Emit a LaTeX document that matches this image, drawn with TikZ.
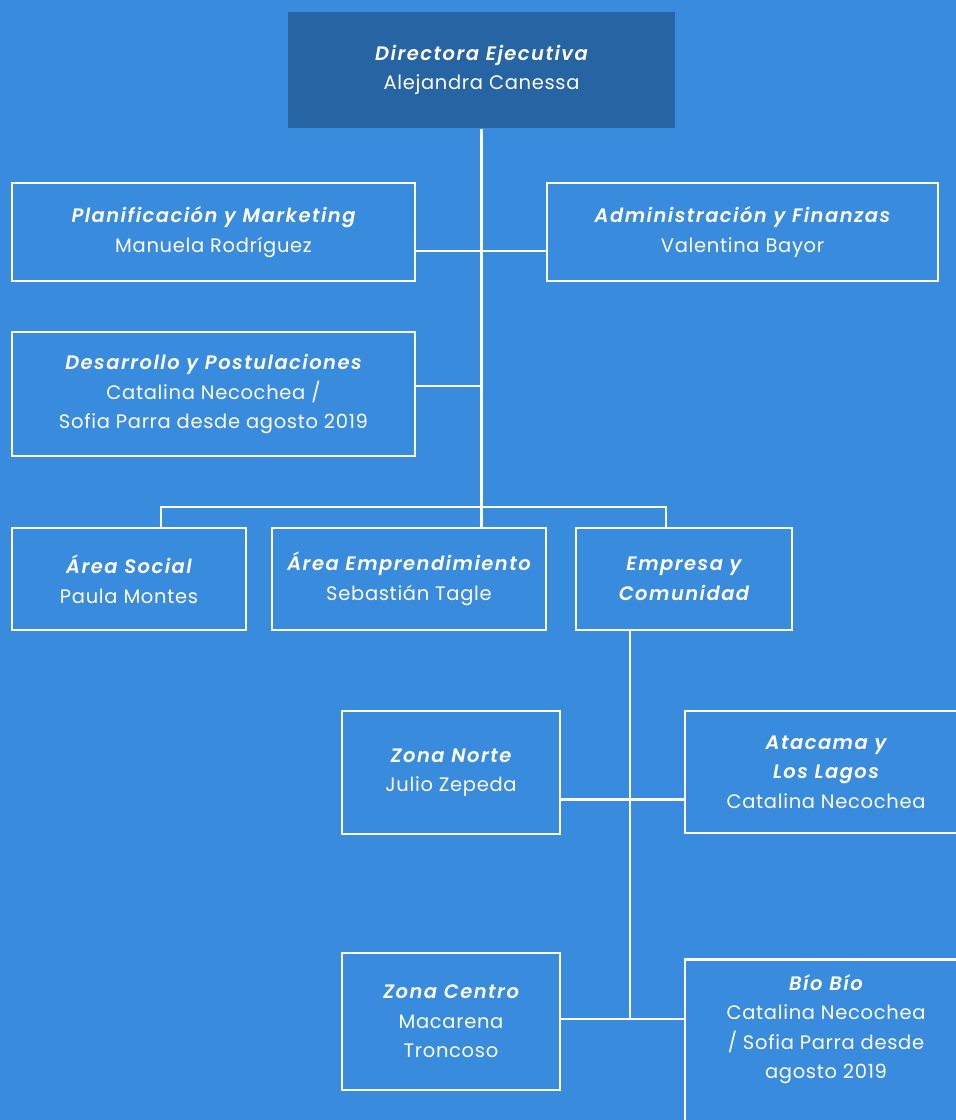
\documentclass[tikz,border=0pt]{standalone}
\usepackage{fontspec}
\setmainfont{Poppins}[UprightFeatures={LetterSpace=3.5}, BoldItalicFont={Poppins SemiBold Italic}, BoldItalicFeatures={LetterSpace=7.5}]
\definecolor{bgblue}{RGB}{57,140,221}
\definecolor{topblue}{RGB}{39,100,163}
\newcommand{\areatitle}[1]{{\bfseries\itshape #1}}

\begin{document}
\begin{tikzpicture}[x=1pt, y=-1pt,
    unit/.style={draw=white, line width=2.5pt, rectangle, align=center,
      inner sep=0pt, text=white, font=\fontsize{19.5}{29.5}\selectfont},
    link/.style={draw=white, line width=2.5pt}]
    \fill[bgblue] (0,0) rectangle (956,1120);
    \useasboundingbox (0,0) rectangle (956,1120);
    \clip (0,0) rectangle (956,1120);

    \node[unit, draw=none, fill=topblue, minimum width=387pt, minimum height=116pt] (dir) at (481.5,70)
      {\areatitle{Directora Ejecutiva}\\Alejandra Canessa};
    \node[unit, minimum width=403pt, minimum height=98pt] (plan) at (213.5,232)
      {\areatitle{Planificación y Marketing}\\Manuela Rodríguez};
    \node[unit, minimum width=391pt, minimum height=98pt] (admin) at (742.5,232)
      {\areatitle{Administración y Finanzas}\\Valentina Bayor};
    \node[unit, minimum width=403pt, minimum height=124pt] (desa) at (213.5,394)
      {\areatitle{Desarrollo y Postulaciones}\\Catalina Necochea /\\Sofia Parra desde agosto 2019};
    \node[unit, minimum width=234pt, minimum height=102pt] (social) at (129,579)
      {\areatitle{Área Social}\\Paula Montes};
    \node[unit, minimum width=274pt, minimum height=102pt] (empr) at (409,579)
      {\areatitle{Área Emprendimiento}\\Sebastián Tagle};
    \node[unit, minimum width=216pt, minimum height=102pt] (emco) at (684,579)
      {\areatitle{Empresa y}\\\areatitle{Comunidad}};
    \node[unit, minimum width=218pt, minimum height=123pt] (norte) at (451,772.5)
      {\areatitle{Zona Norte}\\Julio Zepeda};
    \node[unit, minimum width=282pt, minimum height=122pt] (ataca) at (826,772)
      {\areatitle{Atacama y}\\\areatitle{Los Lagos}\\Catalina Necochea};
    \node[unit, minimum width=218pt, minimum height=137pt] (centro) at (451,1021.5)
      {\areatitle{Zona Centro}\\Macarena\\Troncoso};
    \node[unit, minimum width=282pt, inner ysep=15pt, text depth=150pt, anchor=north] (bio) at (826,958)
      {\areatitle{Bío Bío}\\Catalina Necochea\\/ Sofia Parra desde\\agosto 2019};

    \coordinate (bus) at (481.5,507);
    \coordinate (p1) at ([yshift=-19pt]plan.east);
    \coordinate (d1) at ([yshift=8pt]desa.east);
    \coordinate (e1) at ([xshift=-54pt]emco.south);
    \coordinate (z1) at ([yshift=-27pt]norte.east);
    \coordinate (z2) at ([yshift=2.5pt]centro.east);

    \draw[link] (dir.south) -- (bus);
    \draw[link] (p1) -- (p1 -| admin.west);
    \draw[link] (d1) -- (d1 -| bus);
    \draw[link] ([xshift=32pt]social.north) |- (bus) -| ([xshift=-18pt]emco.north);
    \draw[link] (bus) -- (bus |- empr.north);
    \draw[link] (e1) -- (e1 |- z2);
    \draw[link] (z1) -- (z1 -| ataca.west);
    \draw[link] (z2) -- (z2 -| bio.west);
\end{tikzpicture}
\end{document}
